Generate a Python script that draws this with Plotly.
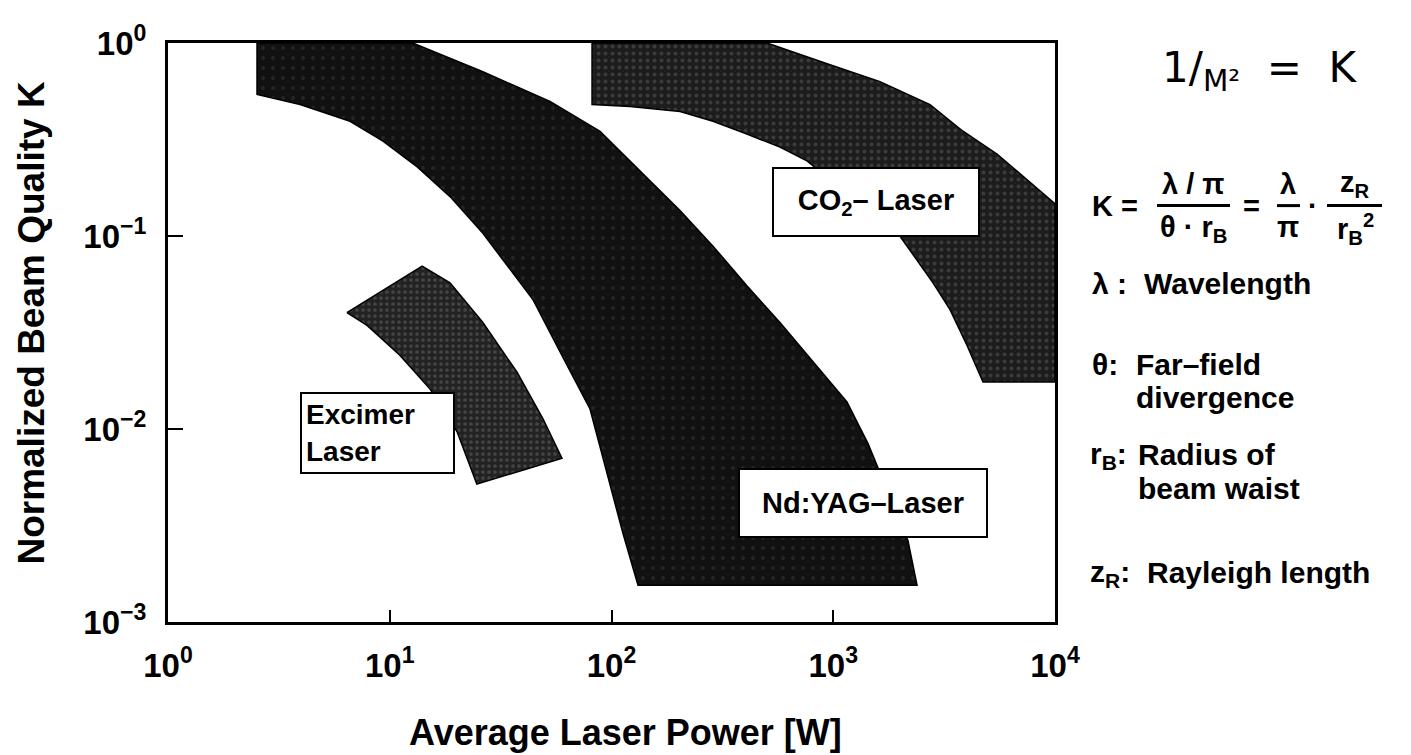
import plotly.graph_objects as go

# ---------------- data ----------------
# Nd:YAG band: top edge, outer (right) edge, bottom edge, inner (left) edge
ndyag_power = [2.52, 12.7, 26.3, 52.8, 88.8, 121.2, 203.7, 286.9, 408, 575, 810, 1153,
               1435, 2173, 2387,
               131.7, 112.7, 98.4, 88.8, 80.0, 63.0, 44.3, 26.3, 18.7, 13.3, 9.32, 6.62,
               3.94, 2.52, 2.52]
ndyag_k = [1.0, 1.0, 0.710, 0.498, 0.349, 0.245, 0.1355, 0.0886, 0.0552, 0.0356, 0.0222, 0.0138,
           0.0084, 0.00264, 0.00155,
           0.00155, 0.00287, 0.00518, 0.00832, 0.0127, 0.0214, 0.0467, 0.1032, 0.160, 0.228, 0.310,
           0.393, 0.480, 0.541, 1.0]

# CO2 band (clipped by the top and right frame)
co2_power = [81.7, 503, 967, 1625, 2731, 3847, 5477, 8557, 10000, 10000,
             4735, 4011, 3362, 2818, 2387, 2000, 761, 575, 408, 286.9, 203.7, 121.2, 81.7, 81.7]
co2_k = [1.0, 1.0, 0.771, 0.631, 0.480, 0.349, 0.266, 0.1717, 0.147, 0.0175,
         0.0175, 0.0271, 0.0415, 0.0572, 0.0750, 0.0997, 0.245, 0.289, 0.337, 0.393, 0.442, 0.469,
         0.480, 1.0]

# Excimer band
excimer_power = [6.41, 14.0, 18.7, 26.3, 37.5, 49.1, 59.8,
                 24.7, 20.1, 15.2, 11.1, 7.90, 6.41]
excimer_k = [0.0401, 0.0699, 0.0572, 0.0356, 0.0197, 0.0113, 0.00705,
             0.00518, 0.0097, 0.0161, 0.0241, 0.0344, 0.0401]

x_tickvals = [1, 10, 100, 1000, 10000]
x_ticktext = ["10<sup>0</sup>", "10<sup>1</sup>", "10<sup>2</sup>", "10<sup>3</sup>", "10<sup>4</sup>"]
y_tickvals = [0.001, 0.01, 0.1, 1]
y_ticktext = ["10<sup>\u22123</sup>", "10<sup>\u22122</sup>", "10<sup>\u22121</sup>", "10<sup>0</sup>"]

band_names = ["Nd:YAG-Laser", "CO2-Laser", "Excimer Laser"]

# ---------------- figure ----------------
# page body has an 8 px margin; positions below are page pixels
OFF = 8
PW, PH = 1411, 755
W, H = PW - OFF, PH - OFF
L, R, T, B = 168, 1055, 38, 622


def px(xp, yp):
    """page pixel position -> paper coordinates (layout helper for annotations)"""
    return (xp - L) / (R - L), (B - yp) / (B - T)


FONT = "Liberation Sans"
fig = go.Figure()

band_style = [
    dict(bg="#111111", fg="#3a3a3a", size=10, solidity=0.12),
    dict(bg="#1c1c1c", fg="#5a5a5a", size=7, solidity=0.25),
    dict(bg="#222222", fg="#666666", size=6, solidity=0.3),
]
for name, xs, ys, st in zip(band_names,
                            [ndyag_power, co2_power, excimer_power],
                            [ndyag_k, co2_k, excimer_k],
                            band_style):
    fig.add_trace(go.Scatter(
        x=xs, y=ys, name=name, mode="lines", fill="toself",
        fillcolor=st["bg"],
        fillpattern=dict(shape=".", bgcolor=st["bg"], fgcolor=st["fg"],
                         size=st["size"], solidity=st["solidity"]),
        line=dict(color="black", width=1.5),
        hoverinfo="name"))

axis_common = dict(
    type="log", showgrid=False, zeroline=False,
    showline=True, linecolor="black", linewidth=3, mirror=True,
    ticks="inside", tickcolor="black", tickwidth=2,
    tickfont=dict(family=FONT, size=33, color="black", weight=700),
)
fig.update_xaxes(range=[0, 4], tickvals=x_tickvals, ticktext=x_ticktext,
                 ticklen=12, ticklabelstandoff=12, **axis_common)
fig.update_yaxes(range=[-3, 0], tickvals=y_tickvals, ticktext=y_ticktext,
                 ticklen=15, ticklabelstandoff=12, **axis_common)

ann = []


def add_text(text, xp, yp, size=30, xanchor="left", yanchor="middle", weight=700,
             family=FONT, **kw):
    x, y = px(xp, yp)
    d = dict(text=text, x=x, y=y, xref="paper", yref="paper", showarrow=False,
             xanchor=xanchor, yanchor=yanchor,
             font=dict(family=family, size=size, color="black", weight=weight))
    d.update(kw)
    ann.append(d)


# axis titles
add_text("Average Laser Power [W]", 625, 733, size=36, xanchor="center")
add_text("Normalized Beam Quality K", 32, 321, size=37, xanchor="center", textangle=-90)

# boxed band labels
box = dict(bordercolor="black", borderwidth=2, bgcolor="white", borderpad=4)
add_text("CO<sub>2</sub>\u2013 Laser", 876, 198, size=29, xanchor="center",
         width=196, height=58, **box)
add_text("Nd:YAG\u2013Laser", 863, 502, size=29, xanchor="center",
         width=238, height=58, **box)
add_text("Excimer<br>Laser", 377, 431, size=28, xanchor="center", align="left",
         width=143, height=70, **box)

# handwritten relation
add_text("1/<sub>M\u00b2</sub>  =  K", 1260, 66, size=42, xanchor="center",
         weight=400, family="DejaVu Sans")

# formula K = (λ/π)/(θ·rB) = λ/π · zR/rB²
fs = 29
add_text("K =", 1090, 202, size=fs)
add_text("\u03bb / \u03c0", 1193, 180, size=fs, xanchor="center")
add_text("\u03b8 \u00b7 r<sub>B</sub>", 1193, 226, size=fs, xanchor="center")
add_text("=", 1251, 202, size=fs, xanchor="center")
add_text("\u03bb", 1288, 180, size=fs, xanchor="center")
add_text("\u03c0", 1288, 224, size=fs, xanchor="center")
add_text("\u00b7", 1313, 202, size=fs, xanchor="center")
add_text("z<sub>R</sub>", 1355, 180, size=fs, xanchor="center")
add_text("r<sub>B</sub><sup>2</sup>", 1355, 226, size=fs, xanchor="center")

shapes = []
for x0, x1 in [(1157, 1230), (1277, 1300), (1327, 1382)]:
    a0, b0 = px(x0, 202)
    a1, _ = px(x1, 202)
    shapes.append(dict(type="line", xref="paper", yref="paper", x0=a0, x1=a1,
                       y0=b0, y1=b0, line=dict(color="black", width=3)))

# symbol list
ls = 30
add_text("\u03bb :", 1090, 281, size=ls)
add_text("Wavelength", 1142, 281, size=ls)
add_text("\u03b8:", 1090, 362, size=ls)
add_text("Far\u2013field", 1134, 362, size=ls)
add_text("divergence", 1134, 396, size=ls)
add_text("r<sub>B</sub>:", 1088, 454, size=ls)
add_text("Radius of", 1136, 453, size=ls)
add_text("beam waist", 1136, 487, size=ls)
add_text("z<sub>R</sub>:", 1088, 573, size=ls)
add_text("Rayleigh length", 1145, 572, size=ls)

fig.update_layout(
    width=W, height=H,
    margin=dict(l=L - OFF, r=PW - R, t=T - OFF, b=PH - B),
    plot_bgcolor="white", paper_bgcolor="white",
    showlegend=False,
    annotations=ann, shapes=shapes,
)

fig.write_html("out.html")
